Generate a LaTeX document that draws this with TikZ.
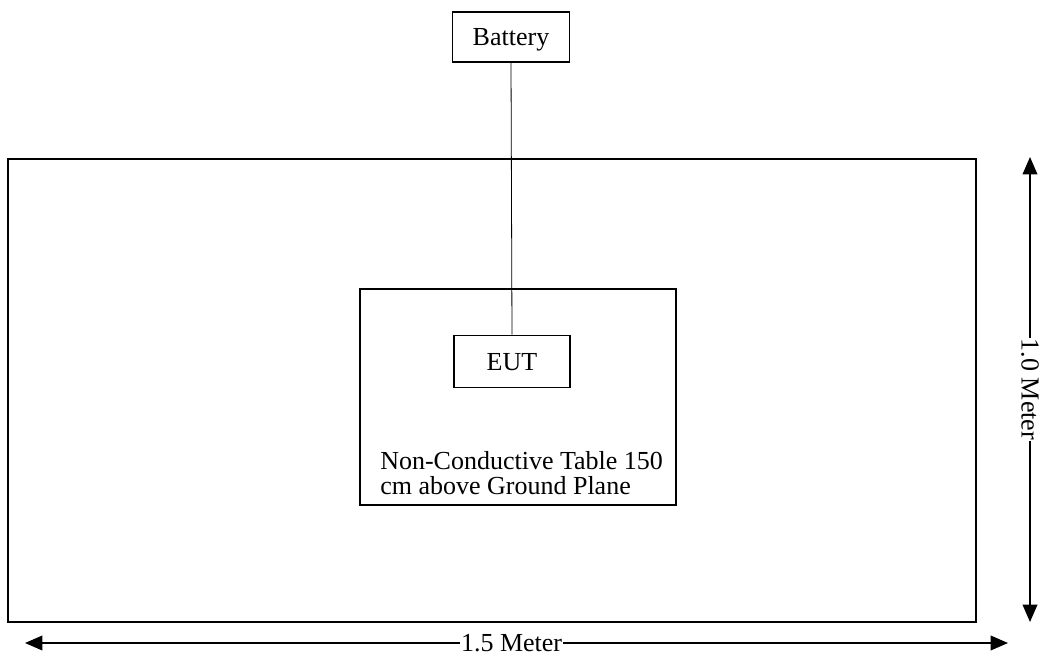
\documentclass[tikz,border=0pt]{standalone}
\usepackage{fontspec}
\setmainfont{Liberation Serif}
\usetikzlibrary{arrows.meta,positioning,calc}

\begin{document}
\begin{tikzpicture}[x=0.75pt,y=-0.75pt,
caixa/.style={draw, line width=0.8pt, align=center, font=\fontsize{19.5}{22}\selectfont, inner sep=0pt, text depth=0pt},
plano/.style={draw, line width=2.2pt},
mesa/.style={draw, line width=0.8pt},
rotulo/.style={fill=white, inner sep=1pt, font=\fontsize{19.5}{22}\selectfont},
seta/.style={{Triangle[length=13pt,width=11pt]}-{Triangle[length=13pt,width=11pt]}, line width=1.1pt}
]
\useasboundingbox (0,0) rectangle (1043,656);
\draw[plano] (8,159) rectangle (976,622);
\draw[mesa] (360,289) rectangle (676,505);
\node[caixa, minimum width=88pt, minimum height=37.5pt] (bateria) at (511,37) {Battery};
\node[caixa, minimum width=87pt, minimum height=39.5pt] (eut) at (512,361.5) {EUT};
\node[align=left, anchor=base west, inner sep=0pt, font=\fontsize{19.5}{18.75}\selectfont] (texto) at (380,494) {Non-Conductive Table 150\\cm above Ground Plane};
\draw[line width=0.6pt] (bateria.south) -- (eut.north);

\coordinate (vtopo) at (1030,157);
\coordinate (vbase) at (1030,622);
\draw[seta] (vtopo) -- node[rotulo, rotate=-90] (altura) {1.0 Meter} (vbase);

\coordinate (hesq) at (25,643);
\coordinate (hdir) at (1008,643);
\draw[seta] (hesq) -- node[rotulo, pos=0.495] (largura) {1.5 Meter} (hdir);
\end{tikzpicture}
\end{document}
